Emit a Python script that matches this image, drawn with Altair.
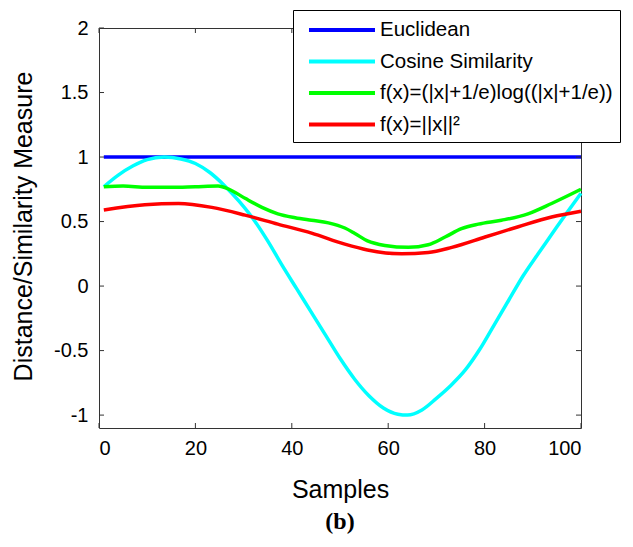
import altair as alt
import pandas as pd

series_names = ["Euclidean", "Cosine Similarity",
                "f(x)=(|x|+1/e)log((|x|+1/e))", "f(x)=||x||²"]
series_colors = ["#0000FF", "#00FFFF", "#00FF00", "#FF0000"]

euc_x = [1, 100]
euc_y = [1, 1]

cos_x = [1, 4, 7, 10, 13.5, 17, 20, 23, 26, 29, 32, 35, 38, 41, 44, 47, 50,
         53, 56, 59, 62, 64, 67, 70, 73, 76, 79, 82, 85, 88, 91, 94, 97, 100]
cos_y = [0.77, 0.86, 0.93, 0.98, 1.0, 0.985, 0.95, 0.88, 0.78, 0.66, 0.52,
         0.35, 0.16, -0.02, -0.2, -0.38, -0.56, -0.72, -0.85, -0.945, -0.993,
         -1.0, -0.96, -0.87, -0.77, -0.65, -0.49, -0.3, -0.11, 0.08, 0.245,
         0.405, 0.565, 0.72]

grn_x = [1, 5, 10, 15, 20, 24.7, 27, 30.3, 33.8, 37.1, 40.7, 44.1, 47.6, 51,
         53, 55.7, 59.3, 64.2, 68.3, 71.8, 75.2, 78.7, 83.5, 89, 93.9, 100]
grn_y = [0.77, 0.775, 0.765, 0.765, 0.77, 0.775, 0.75, 0.68, 0.61, 0.56, 0.53,
         0.51, 0.49, 0.45, 0.41, 0.35, 0.315, 0.30, 0.32, 0.38, 0.445, 0.48,
         0.51, 0.56, 0.64, 0.75]

red_x = [1, 9.5, 16.5, 23.4, 30.3, 37.1, 44.1, 51, 55.7, 62.8, 68.3, 73.2,
         80.1, 87, 93.9, 100]
red_y = [0.59, 0.63, 0.64, 0.61, 0.55, 0.48, 0.41, 0.325, 0.28, 0.25, 0.26,
         0.30, 0.38, 0.46, 0.535, 0.58]

x_ticks = [0, 20, 40, 60, 80, 100]
y_ticks = [-1, -0.5, 0, 0.5, 1, 1.5, 2]

rows = []
for name, xs, ys in zip(series_names, [euc_x, cos_x, grn_x, red_x],
                        [euc_y, cos_y, grn_y, red_y]):
    for a, b in zip(xs, ys):
        rows.append({"series": name, "sample": a, "value": b})
df = pd.DataFrame(rows)

W, H = 482, 400
FONT = "Liberation Sans"

xscale = alt.Scale(domain=[0, 100], nice=False, zero=False)
yscale = alt.Scale(domain=[-1.1, 2], nice=False, zero=False)

x_axis = alt.Axis(values=x_ticks, title="Samples", labelPadding=10,
                  labelExpr="'' + datum.value", titleX=241, titleY=69,
                  titleBaseline="alphabetic", titleAlign="center")
y_axis = alt.Axis(values=y_ticks, title="Distance/Similarity Measure",
                  labelPadding=11, labelExpr="'' + datum.value",
                  titleX=-68, titleY=198, titleBaseline="alphabetic",
                  titleAlign="center", titleAngle=270)

legend = alt.Legend(title=None, orient="none", legendX=194, legendY=-18,
                    symbolType="M-0.364,0H5.636", symbolSize=484,
                    symbolStrokeWidth=4, labelOffset=54, labelFontSize=20.5,
                    labelFont=FONT, labelColor="black", padding=7,
                    rowPadding=7.5, fillColor="white", strokeColor="black",
                    labelLimit=400)

color = alt.Color("series:N",
                  scale=alt.Scale(domain=series_names, range=series_colors),
                  sort=series_names, legend=legend)


def line(name):
    return alt.Chart(df).transform_filter(
        alt.datum.series == name
    ).mark_line(strokeWidth=3.5, interpolate="monotone").encode(
        x=alt.X("sample:Q", scale=xscale, axis=x_axis),
        y=alt.Y("value:Q", scale=yscale, axis=y_axis),
        color=color,
    )


tick_color = "#333333"
yt = pd.DataFrame({"value": y_ticks})
xt = pd.DataFrame({"sample": x_ticks})

left_ticks = alt.Chart(yt).mark_rule(color=tick_color, strokeWidth=1).encode(
    y=alt.Y("value:Q", scale=yscale, axis=y_axis),
    x=alt.value(0), x2=alt.value(5))
right_ticks = alt.Chart(yt).mark_rule(color=tick_color, strokeWidth=1).encode(
    y=alt.Y("value:Q", scale=yscale, axis=y_axis),
    x=alt.value(W - 5), x2=alt.value(W))
bottom_ticks = alt.Chart(xt).mark_rule(color=tick_color, strokeWidth=1).encode(
    x=alt.X("sample:Q", scale=xscale, axis=x_axis),
    y=alt.value(H - 5), y2=alt.value(H))
top_ticks = alt.Chart(xt).mark_rule(color=tick_color, strokeWidth=1).encode(
    x=alt.X("sample:Q", scale=xscale, axis=x_axis),
    y=alt.value(0), y2=alt.value(5))

chart = alt.layer(
    *[line(n) for n in series_names],
    left_ticks, right_ticks, bottom_ticks, top_ticks,
).properties(
    width=W, height=H,
    padding={"left": 91, "top": 20, "right": 44, "bottom": 111},
    autosize=alt.AutoSizeParams(type="none"),
    title=alt.TitleParams("(b)", orient="bottom", anchor="middle",
                          font="Liberation Serif", fontSize=24,
                          fontWeight="bold", color="black", offset=8),
).configure_view(
    stroke="#333333", strokeWidth=1
).configure_axis(
    domain=False, ticks=False, tickSize=0, grid=False,
    labelFont=FONT, labelFontSize=20, labelColor="black",
    titleFont=FONT, titleFontSize=25, titleFontWeight="normal",
    titleColor="black",
).configure_legend(
    strokeWidth=1
)

chart.save("out.html", embed_options={"renderer": "svg", "actions": False})
